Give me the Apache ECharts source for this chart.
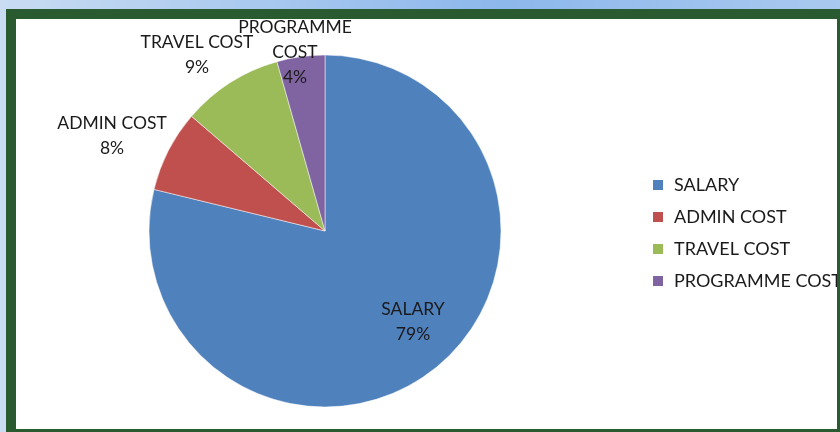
<!DOCTYPE html>
<html>
<head>
<meta charset="utf-8">
<script src="https://cdn.jsdelivr.net/npm/echarts@6/dist/echarts.min.js"></script>
<style>
  html, body {
    margin: 0;
    padding: 0;
    width: 840px;
    height: 432px;
    overflow: hidden;
    background: linear-gradient(90deg, #c9dcf2 0%, #9fc3ee 40%, #8db8ec 60%, #a9c9ef 100%);
  }
  .frame {
    position: absolute;
    left: 6px;
    top: 9px;
    width: 844px;
    height: 433px;
    background: #2a5a30;
  }
  .echart {
    position: absolute;
    left: 16px;
    top: 19px;
    width: 821px;
    height: 410px;
    background: #ffffff;
  }
</style>
</head>
<body>
<div class="frame"></div>
<div class="echart" id="myChart"></div>
<script>
  // data
  const categories = ['SALARY', 'ADMIN COST', 'TRAVEL COST', 'PROGRAMME COST'];
  const labelNames = ['SALARY', 'ADMIN COST', 'TRAVEL COST', 'PROGRAMME\nCOST'];
  const values = [78.8, 7.5, 9.3, 4.4];
  const colors = ['#4f81bd', '#c0504d', '#9bbb59', '#8064a2'];

  // where the data labels sit (centre of each text block, px inside the chart)
  const labelSpots = [[397, 303], [96, 117], [181, 36], [279, 33]];

  const chartDom = document.getElementById('myChart');
  const myChart = echarts.init(chartDom);

  const pieData = categories.map((name, i) => ({
    name: name,
    value: values[i],
    itemStyle: { color: colors[i] },
    label: {
      position: i === 0 ? 'inside' : 'outside',
      formatter: labelNames[i] + '\n{d}%'
    }
  }));

  const option = {
    animation: false,
    textStyle: { fontFamily: 'Lato' },
    legend: {
      orient: 'vertical',
      left: 630,
      top: 152,
      itemWidth: 12,
      itemHeight: 12,
      itemGap: 14,
      icon: 'rect',
      data: categories,
      textStyle: { fontSize: 18, color: '#1a1a1a', fontFamily: 'Lato', padding: [0, 0, 0, 5] }
    },
    series: [
      {
        name: 'Cost',
        type: 'pie',
        center: [309, 212],
        radius: 176,
        startAngle: 90,
        clockwise: true,
        percentPrecision: 0,
        data: pieData,
        itemStyle: { borderColor: '#ffffff', borderWidth: 0.5 },
        label: {
          color: '#1a1a1a',
          fontSize: 17.5,
          fontFamily: 'Lato',
          lineHeight: 25
        },
        labelLine: { show: false, length: 6, length2: 0 },
        labelLayout: function (params) {
          const spot = labelSpots[params.dataIndex];
          return { x: spot[0], y: spot[1], align: 'center', verticalAlign: 'middle' };
        },
        emphasis: { disabled: true }
      }
    ]
  };

  myChart.setOption(option);
  window.addEventListener('resize', () => myChart.resize());
</script>
</body>
</html>
